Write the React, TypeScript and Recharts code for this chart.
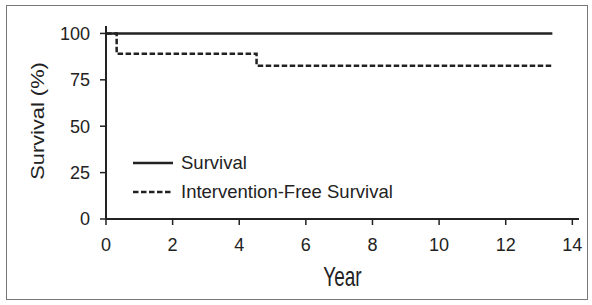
import React from 'react';
import { LineChart, Line, XAxis, YAxis, Legend, Label } from 'recharts';

// Kaplan-Meier style step curves
const survivalYears = [0, 13.4];
const survivalPct = [100, 100];
const freeYears = [0, 0.32, 4.52, 13.4];
const freePct = [100, 89, 82.6, 82.6];

const seriesNames = ['Survival', 'Intervention-Free Survival'];
const seriesDash = ['', '5.5 2.5'];

const xTicks = [0, 2, 4, 6, 8, 10, 12, 14];
const yTicks = [0, 25, 50, 75, 100];

const INK = '#222';
const FONT = '"Liberation Sans", Arial, Helvetica, sans-serif';

const survivalData = survivalYears.map((year, i) => ({ year, pct: survivalPct[i] }));
const freeData = freeYears.map((year, i) => ({ year, pct: freePct[i] }));

const renderLegend = () => (
  <div style={{ fontFamily: FONT }}>
    {seriesNames.map((name, i) => (
      <div key={name} style={{ display: 'flex', alignItems: 'center', height: 29 }}>
        <svg width={40} height={4}>
          <line x1={0} y1={2} x2={40} y2={2} stroke={INK} strokeWidth={2.5} strokeDasharray={seriesDash[i] || undefined} />
        </svg>
        <span style={{ marginLeft: 8, fontSize: 18.5, color: INK }}>{name}</span>
      </div>
    ))}
  </div>
);

// axis titles in the source are set in a slightly stretched face
const YearLabel = (props: any) => {
  const vb = props.viewBox;
  const cx = vb.x + vb.width / 2;
  const base = vb.y + vb.height + 37;
  return (
    <text transform={`translate(${cx}, ${base}) scale(1, 1.45)`} textAnchor="middle" fill={INK} fontSize={19} fontFamily={FONT}>
      Year
    </text>
  );
};

const SurvivalLabel = (props: any) => {
  const vb = props.viewBox;
  const cx = vb.x + 38;
  const cy = vb.y + vb.height / 2 - 1.5;
  return (
    <text
      transform={`translate(${cx}, ${cy}) scale(1, 1.18) rotate(-90)`}
      textAnchor="middle"
      dominantBaseline="central"
      fill={INK}
      fontSize={18.5}
      fontFamily={FONT}
    >
      Survival (%)
    </text>
  );
};

export default function App() {
  return (
    <div style={{ position: 'absolute', left: 0, top: 0, width: 592, height: 305, background: '#fff' }}>
      <div
        style={{
          position: 'absolute',
          left: 6,
          top: 5,
          width: 582,
          height: 295,
          border: '1.5px solid #777',
          boxSizing: 'border-box',
        }}
      />
      <LineChart
        width={592}
        height={305}
        margin={{ top: 26, right: 13, bottom: 56, left: 0 }}
        style={{ position: 'absolute', left: 0, top: 0, fontFamily: FONT }}
      >
        <XAxis
          dataKey="year"
          type="number"
          domain={[0, 14.2]}
          ticks={xTicks}
          allowDataOverflow
          height={30}
          stroke={INK}
          strokeWidth={2}
          tickSize={6}
          tickMargin={13}
          tick={{ fill: INK, fontSize: 18 }}
          tickLine={{ stroke: INK, strokeWidth: 1.5 }}
        >
          <Label content={YearLabel} />
        </XAxis>
        <YAxis
          dataKey="pct"
          type="number"
          domain={[0, 104]}
          ticks={yTicks}
          allowDataOverflow
          width={106}
          stroke={INK}
          strokeWidth={2}
          tickSize={6}
          tickMargin={10}
          tick={{ fill: INK, fontSize: 18 }}
          tickLine={{ stroke: INK, strokeWidth: 1.5 }}
        >
          <Label content={SurvivalLabel} />
        </YAxis>
        <Legend
          content={renderLegend}
          layout="horizontal"
          align="center"
          verticalAlign="middle"
          wrapperStyle={{ position: 'absolute', left: 133, top: 148, width: 'auto', bottom: 'auto' }}
        />
        <Line
          data={survivalData}
          dataKey="pct"
          name={seriesNames[0]}
          type="stepAfter"
          stroke={INK}
          strokeWidth={2.5}
          dot={false}
          activeDot={false}
          isAnimationActive={false}
        />
        <Line
          data={freeData}
          dataKey="pct"
          name={seriesNames[1]}
          type="stepAfter"
          stroke={INK}
          strokeWidth={2.5}
          strokeDasharray={seriesDash[1]}
          dot={false}
          activeDot={false}
          isAnimationActive={false}
        />
      </LineChart>
    </div>
  );
}
